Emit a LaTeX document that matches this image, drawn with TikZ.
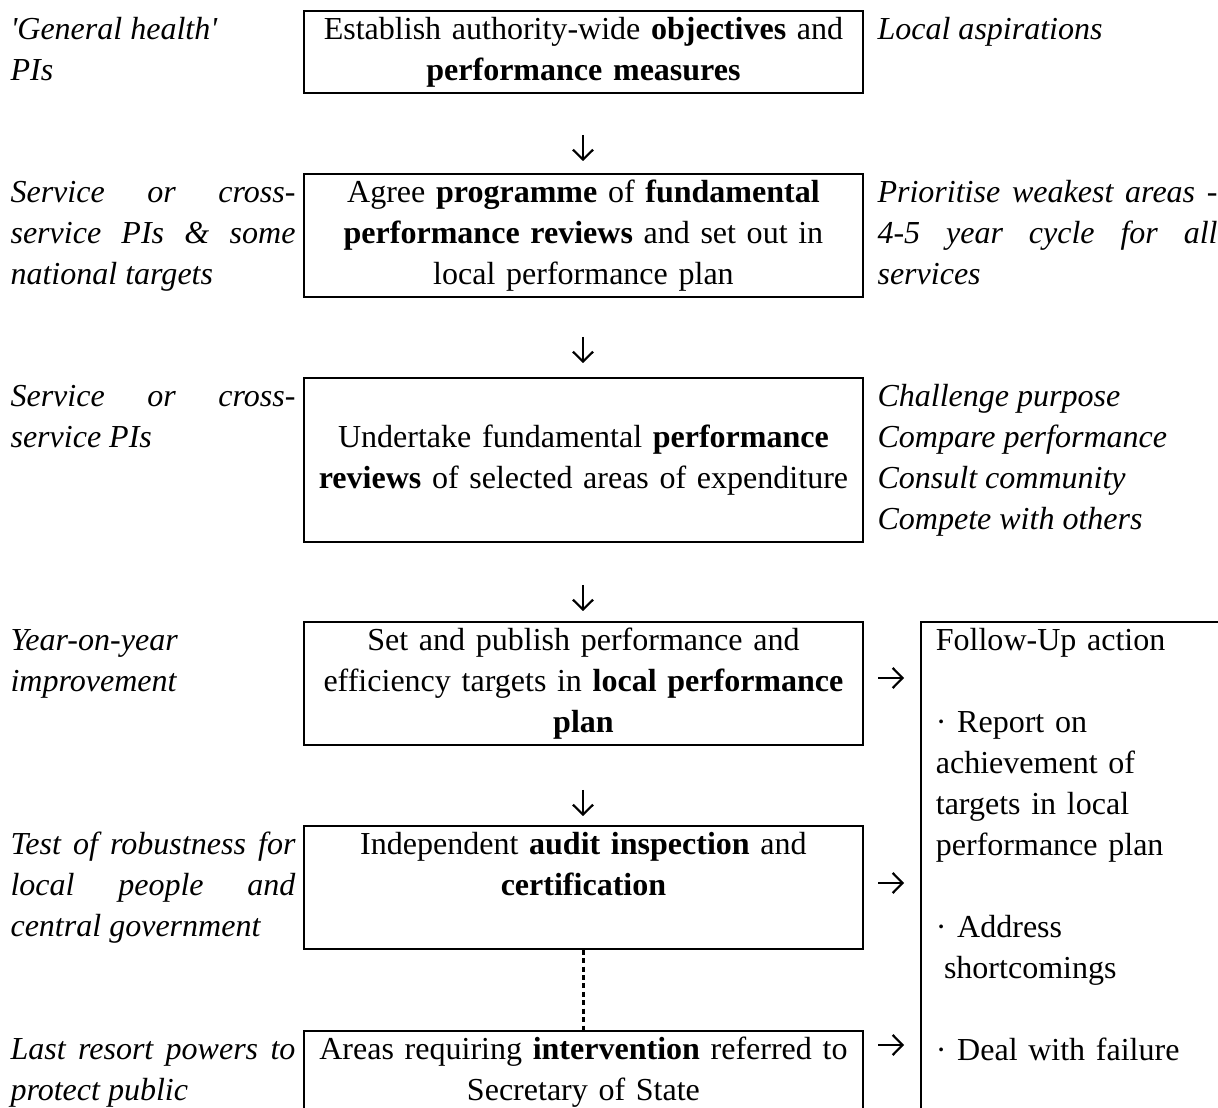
\documentclass[tikz,border=0pt]{standalone}
\usepackage{fontspec}
\setmainfont{Liberation Serif}
\usetikzlibrary{arrows.meta}

\tikzset{
  stepbox/.style={draw, line width=0.7pt, anchor=north west, inner xsep=0pt, inner ysep=0pt,
    minimum width=206pt, text width=200pt, align=center,
    execute at begin node=\strut, execute at end node=\strut},
  sidenote/.style={anchor=north west, inner sep=0pt, text width=105pt, align=justify,
    font=\itshape, execute at begin node=\strut, execute at end node=\strut},
  flowarrow/.style={line width=0.8pt, -{Straight Barb[length=3.6pt, width=7.4pt]}}
}

\begin{document}
\begin{tikzpicture}[x=0.3685pt, y=-0.3685pt]
\fontsize{11.8pt}{15.1pt}\selectfont
\useasboundingbox (0,0) rectangle (1218,1108);

% Main steps
\node[stepbox, minimum height=30.2pt] (objectives) at (303,10)
  {Establish authority-wide \textbf{objectives} and\\ \textbf{performance measures}};
\node[stepbox, minimum height=45pt] (programme) at (303,173)
  {Agree \textbf{programme} of \textbf{fundamental}\\ \textbf{performance reviews} and set out in\\ local performance plan};
\node[stepbox, minimum height=60.1pt] (reviews) at (303,377)
  {\mbox{}\\ Undertake fundamental \textbf{performance}\\ \textbf{reviews} of selected areas of expenditure\\ \mbox{}};
\node[stepbox, minimum height=45pt] (targets) at (303,621)
  {Set and publish performance and\\ efficiency targets in \textbf{local performance}\\ \textbf{plan}};
\node[stepbox, minimum height=45.3pt] (audit) at (303,825)
  {Independent \textbf{audit inspection} and\\ \textbf{certification}\\ \mbox{}};
\node[stepbox, minimum height=45.3pt] (intervention) at (303,1030)
  {Areas requiring \textbf{intervention} referred to\\ Secretary of State\\ \mbox{}};

% Down arrows between steps
\foreach \y in {148,350,598,803}
  \draw[flowarrow] (583,\y-13) -- (583,\y+13);
\draw[line width=0.85pt, dash pattern=on 1.8pt off 1.3pt] (audit) -- (intervention);

% Left column
\node[sidenote] (lefta) at (10,10) {\textquotesingle General health\textquotesingle\\ PIs};
\node[sidenote] (leftb) at (10,173) {Service or cross-\linebreak service PIs \& some\linebreak national targets};
\node[sidenote] (leftc) at (10,377) {Service or cross-\linebreak service PIs};
\node[sidenote] (leftd) at (10,621) {Year-on-year\\ improvement};
\node[sidenote] (lefte) at (10,825) {Test of robustness for\linebreak local people and\linebreak central government};
\node[sidenote] (leftf) at (10,1030) {Last resort powers to\linebreak protect public};

% Right column
\node[sidenote, text width=125.3pt] (righta) at (877,10) {Local aspirations};
\node[sidenote, text width=125.3pt] (rightb) at (877,173) {Prioritise weakest areas -\linebreak 4-5 year cycle for all\linebreak services};
\node[sidenote, text width=125.3pt] (rightc) at (877,377) {Challenge purpose\\ Compare performance\\ Consult community\\ Compete with others};

% Follow-up
\node[draw, line width=0.7pt, anchor=north west, inner xsep=5.5pt, inner ysep=0pt, text width=103pt,
  align=left, execute at begin node=\strut, execute at end node=\strut] (followup) at (920,621)
  {Follow-Up action\\ \mbox{}\\ · Report on\\ achievement of\\ targets in local\\ performance plan\\ \mbox{}\\
   · Address\\ \hspace*{3pt}shortcomings\\ \mbox{}\\ · Deal with failure\\ \mbox{}\\ \mbox{}};
\foreach \y in {678,883,1045}
  \draw[flowarrow] (878,\y) -- (904,\y);
\end{tikzpicture}
\end{document}
